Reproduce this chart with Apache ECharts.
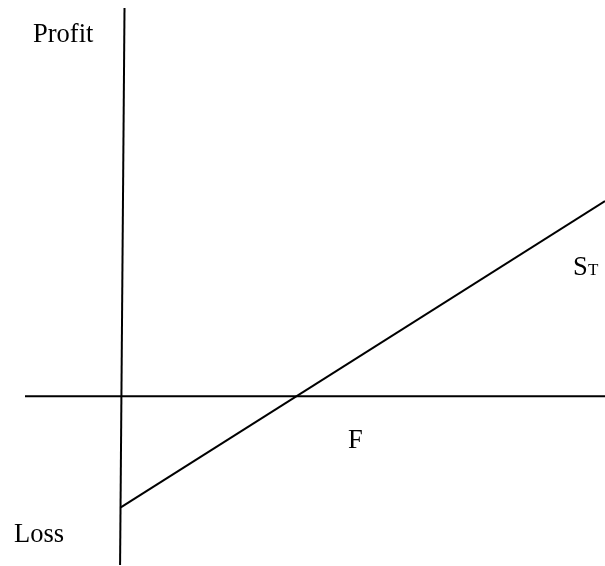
<!DOCTYPE html>
<html>
<head>
<meta charset="utf-8">
<script src="https://cdn.jsdelivr.net/npm/echarts@6/dist/echarts.min.js"></script>
<style>
  html, body { margin: 0; padding: 0; background: #fff; }
  #chart { width: 605px; height: 566px; }
</style>
</head>
<body>
<div id="chart"></div>
<script>
// long forward payoff: S_T - F
var spotPrices = [0, 273];
var payoffValues = [-100, 176];
var strikeF = 100;

// the two drawn axes (vertical one is slightly tilted in the original)
var horizontalAxisX = [-54, 273];
var verticalAxisPts = [[2.1, 350], [-0.4, -152]];

function loadChart() {
    var myChart = echarts.init(document.getElementById('chart'));
    var lineStyle = { color: '#000', width: 2 };
    var font = '"Liberation Serif", "Times New Roman", serif';

    var option = {
        animation: false,
        grid: { left: 25, right: 0, top: 8, bottom: 1 },
        xAxis: { type: 'value', min: -54, max: 273, show: false },
        yAxis: { type: 'value', min: -152, max: 350, show: false },
        series: [
            {
                type: 'line',
                symbol: 'none',
                lineStyle: lineStyle,
                data: horizontalAxisX.map(function (x) { return [x, 0]; })
            },
            {
                type: 'line',
                symbol: 'none',
                lineStyle: lineStyle,
                data: verticalAxisPts
            },
            {
                type: 'line',
                symbol: 'none',
                lineStyle: lineStyle,
                data: spotPrices.map(function (s, i) { return [s, payoffValues[i]]; })
            }
        ],
        graphic: [
            { type: 'text', left: 33, top: 22, style: { text: 'Profit', font: '26.5px ' + font, fill: '#000' } },
            { type: 'text', left: 14, top: 522, style: { text: 'Loss', font: '26.5px ' + font, fill: '#000' } },
            { type: 'text', left: 348, top: 428, style: { text: 'F', font: '26.5px ' + font, fill: '#000' } },
            { type: 'text', left: 573, top: 255, style: { text: 'S', font: '26.5px ' + font, fill: '#000' } },
            { type: 'text', left: 588, top: 262, style: { text: 'T', font: '17px ' + font, fill: '#000' } }
        ]
    };

    myChart.setOption(option);
}

loadChart();
</script>
</body>
</html>
